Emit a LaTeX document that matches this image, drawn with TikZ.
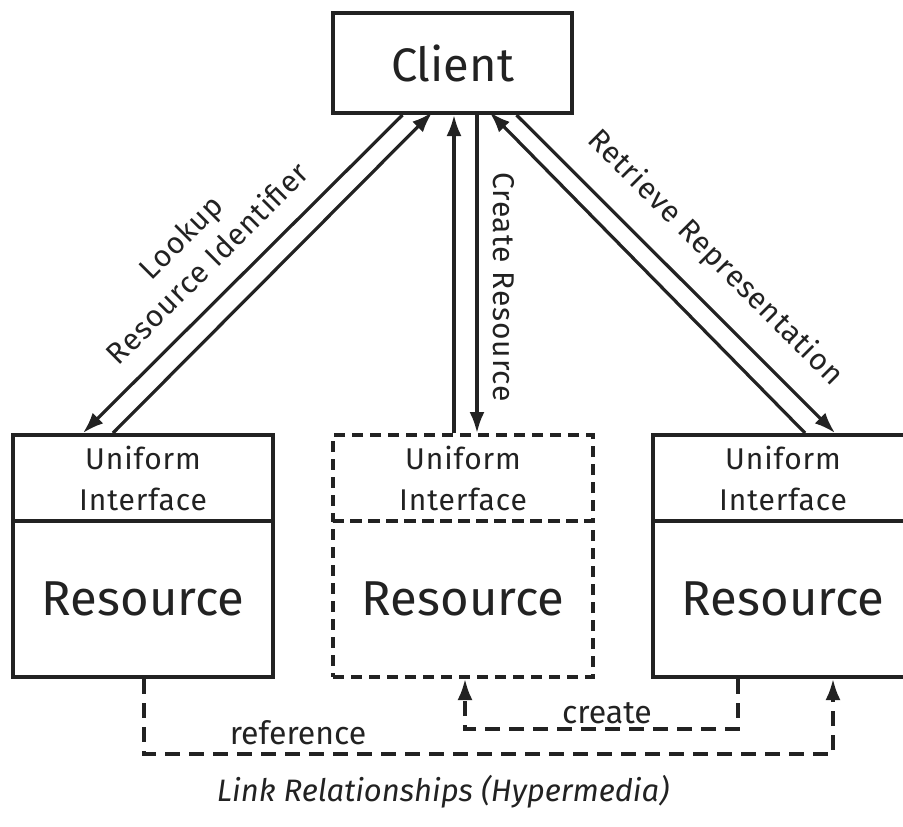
\documentclass[tikz,border=0pt]{standalone}
\usepackage{fontspec}
\setmainfont{Fira Sans}
\newfontfamily\spacedfont[LetterSpace=3]{Fira Sans}
\usetikzlibrary{arrows.meta,calc}
\definecolor{ink}{HTML}{222222}
\begin{document}
\begin{tikzpicture}[x=1pt, y=-1pt, line join=miter, draw=ink, text=ink]
      \tikzset{
	  clientbox/.style={rectangle, draw=ink, line width=4pt, minimum width=239pt, minimum height=100pt, font=\fontsize{47}{56}\selectfont},
	  ifbox/.style={rectangle, draw=ink, line width=4pt, minimum width=260pt, minimum height=86pt, align=center, inner sep=0pt, font=\spacedfont\fontsize{30}{41}\selectfont},
	  resbox/.style={rectangle, draw=ink, line width=4pt, minimum width=260pt, minimum height=156pt, inner sep=0pt, font=\fontsize{49}{56}\selectfont},
	  newbox/.style={dash pattern=on 11pt off 7pt},
	  msg/.style={line width=3.2pt, -{Latex[length=21pt,width=15pt]}},
	  linkline/.style={line width=3.2pt, dash pattern=on 15pt off 9pt, -{Latex[length=21pt,width=15pt]}},
	  arrowlabel/.style={font=\spacedfont\fontsize{30}{37}\selectfont, align=center, inner sep=0pt},
	  linklabel/.style={font=\fontsize{32}{38}\selectfont, inner sep=0pt}
      }

      \useasboundingbox (0,0) rectangle (903,827);
      \clip (0,0) rectangle (903,827);

      % client and the three resources
      \node[clientbox] (client) at (452.5,63) {Client};

      \node[ifbox] (uiL) at (143,478) {Uniform\\Interface};
      \node[resbox] (resL) at (143,599) {Resource};

      \node[ifbox, newbox] (uiM) at (463,478) {Uniform\\Interface};
      \node[resbox, newbox] (resM) at (463,599) {Resource};

      \node[ifbox] (uiR) at (783,478) {Uniform\\Interface};
      \node[resbox] (resR) at (783,599) {Resource};

      % requests through the uniform interface
      \draw[msg] ([xshift=-50pt]client.south) -- ([xshift=-60pt]uiL.north);
      \draw[msg] ([xshift=-30pt]uiL.north) -- ([xshift=-20pt,yshift=3pt]client.south);
      \draw[msg] ([xshift=-9pt]uiM.north) -- ([xshift=1.5pt]client.south);
      \draw[msg] ([xshift=24.5pt]client.south) -- ([xshift=14pt]uiM.north);
      \draw[msg] ([xshift=22pt]uiR.north) -- ([xshift=37pt,yshift=3pt]client.south);
      \draw[msg] ([xshift=64pt]client.south) -- ([xshift=52pt]uiR.north);

      \node[arrowlabel, rotate=45] (lookup) at (194,250) {Lookup\\Resource Identifier};
      \node[arrowlabel, rotate=-90] (create) at (504,287) {Create Resource};
      \node[arrowlabel, rotate=-45] (retrieve) at (715,258) {Retrieve Representation};

      % link relationships
      \draw[linkline] ([xshift=1pt]resL.south) -- ++(0,75) -| ([xshift=50pt]resR.south);
      \draw[linkline] ([xshift=-45pt]resR.south) -- ++(0,50) -| ([xshift=2pt]resM.south);
      \node[linklabel] (reflabel) at (298,733) {reference};
      \node[linklabel] (createlabel) at (607,713) {create};

      \node[linklabel, font=\itshape\fontsize{31}{36}\selectfont] (caption) at (443,792) {Link Relationships (Hypermedia)};
\end{tikzpicture}
\end{document}
